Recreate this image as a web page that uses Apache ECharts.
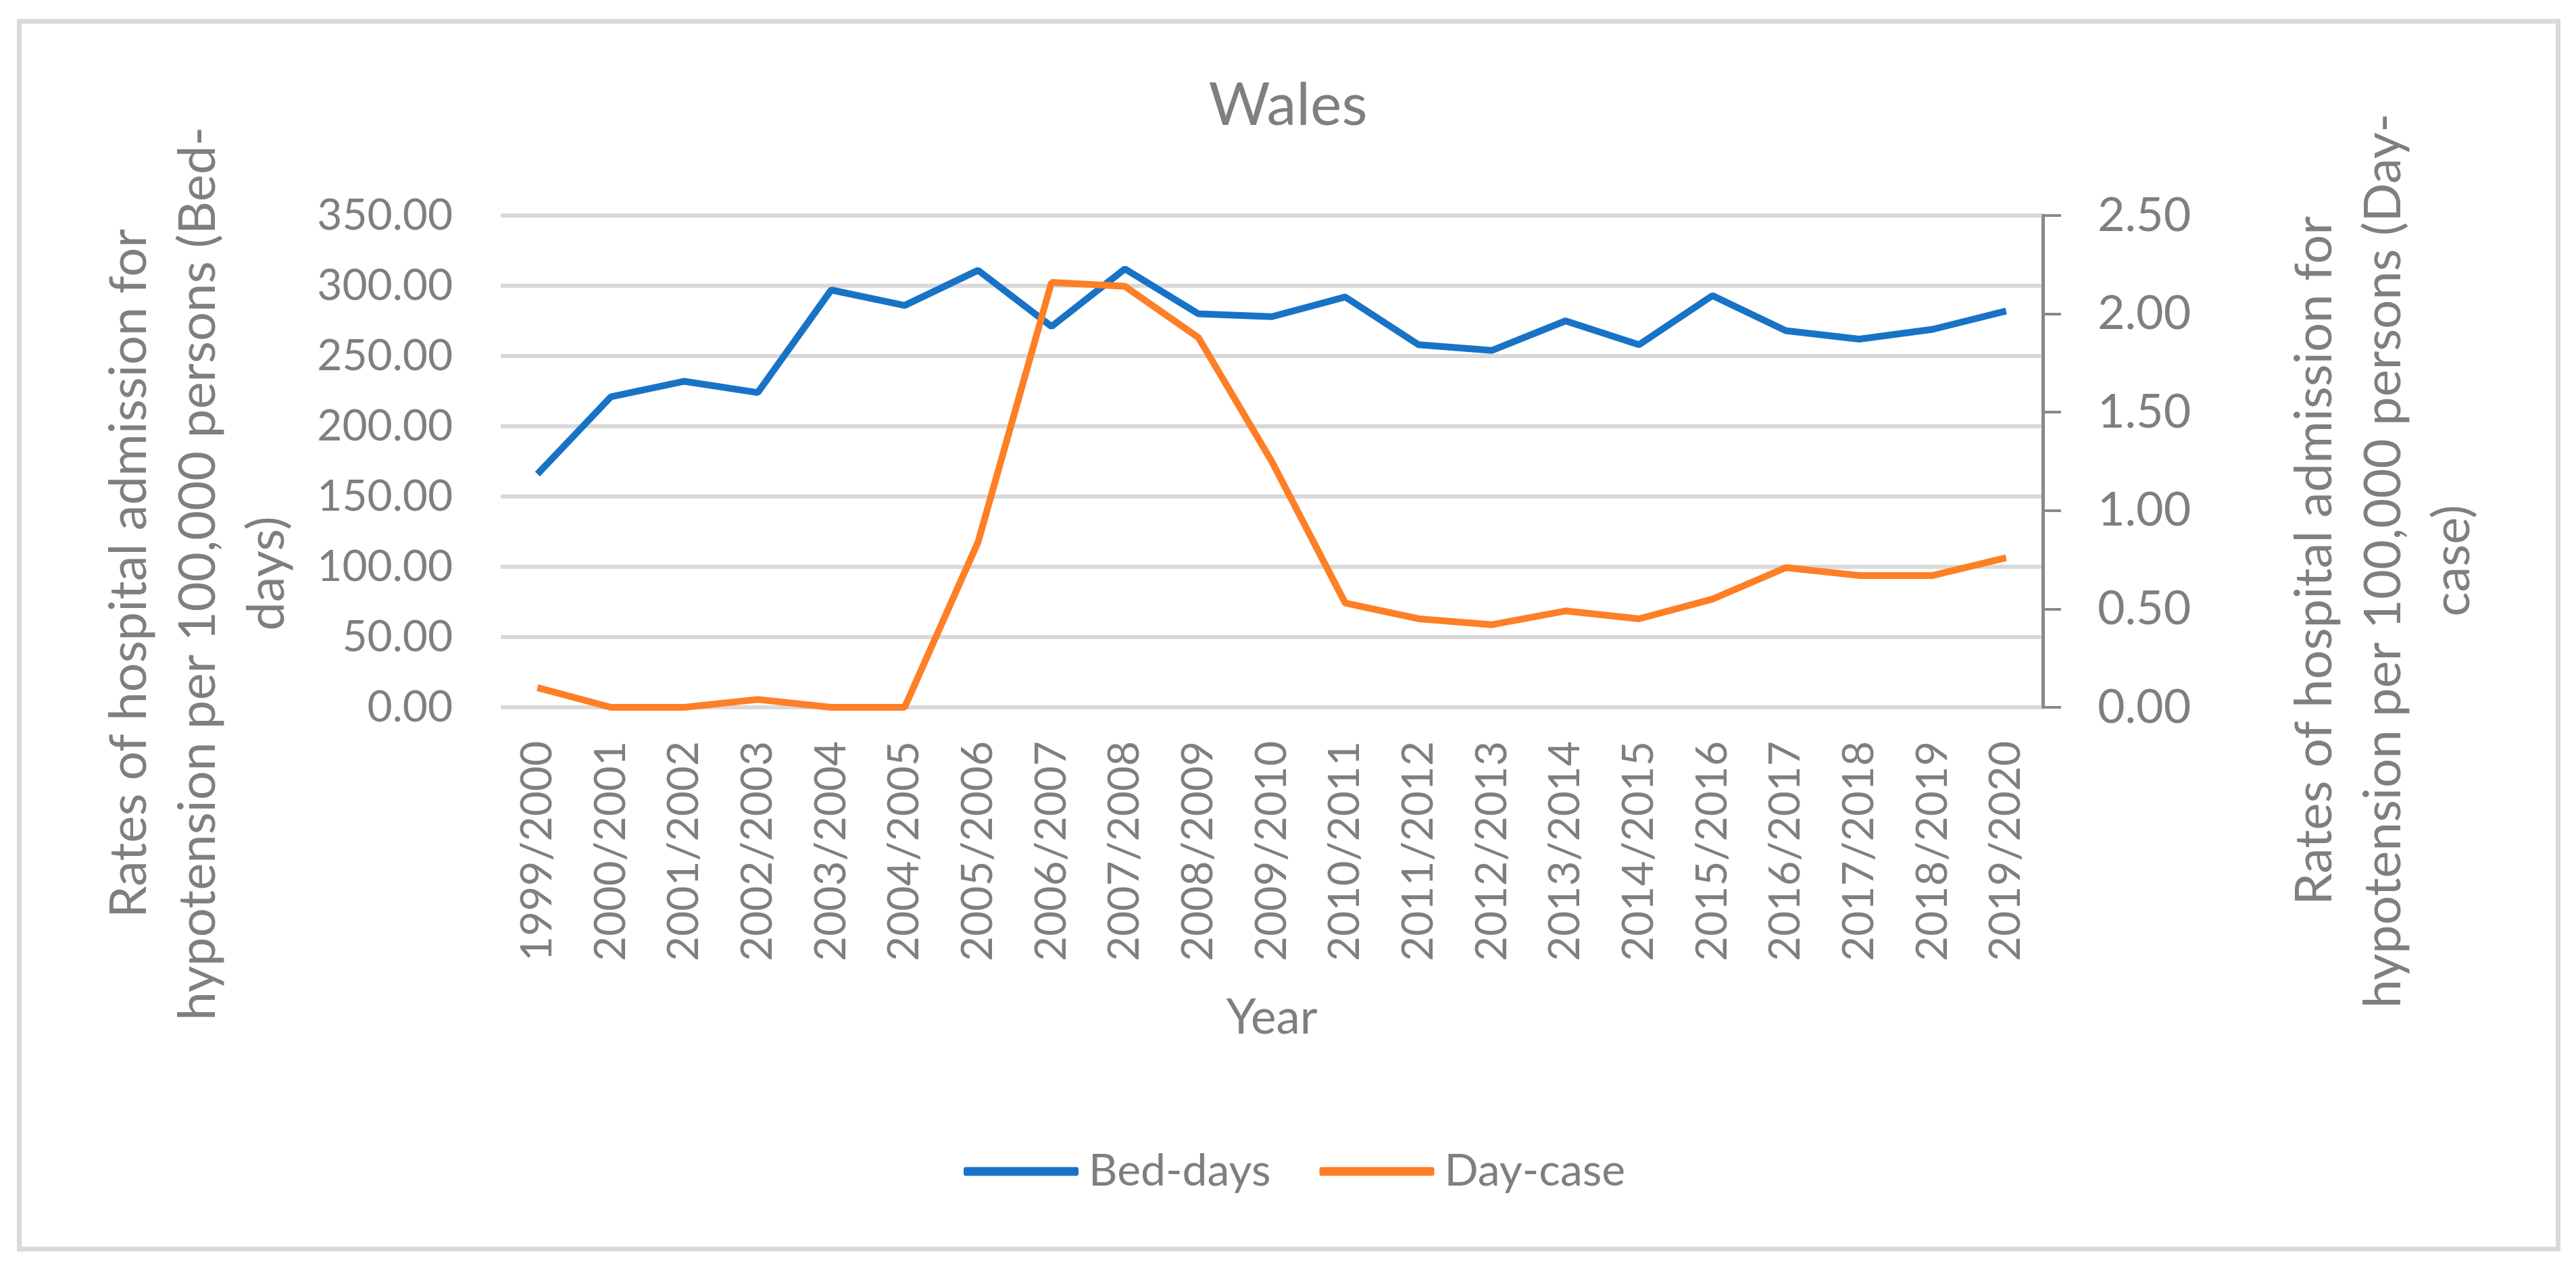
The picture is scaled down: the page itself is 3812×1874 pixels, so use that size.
<!DOCTYPE html>
<html>
<head>
<meta charset="utf-8">
<script src="https://cdn.jsdelivr.net/npm/echarts@6/dist/echarts.min.js"></script>
<style>
html,body{margin:0;padding:0;background:#fff;}
#c{width:3812px;height:1874px;}
</style>
</head>
<body>
<div id="c"></div>
<script>
const categories = ['1999/2000','2000/2001','2001/2002','2002/2003','2003/2004','2004/2005','2005/2006','2006/2007','2007/2008','2008/2009','2009/2010','2010/2011','2011/2012','2012/2013','2013/2014','2014/2015','2015/2016','2016/2017','2017/2018','2018/2019','2019/2020'];
const bedDays = [166, 221, 232, 224, 297, 286, 311, 271, 312, 280, 278, 292, 258, 254, 275, 258, 293, 268, 262, 269, 282];
const dayCase = [0.10, 0, 0, 0.04, 0, 0, 0.84, 2.16, 2.14, 1.88, 1.25, 0.53, 0.45, 0.42, 0.49, 0.45, 0.55, 0.71, 0.67, 0.67, 0.76];
const leftTicks = {min: 0, max: 350, interval: 50};
const rightTicks = {min: 0, max: 2.5, interval: 0.5};

const FONT = 'Lato';
const GRAY = '#7f7f7f';
const chart = echarts.init(document.getElementById('c'));
chart.setOption({
  backgroundColor: '#ffffff',
  animation: false,
  title: {
    text: 'Wales', left: 'center', top: 108,
    textStyle: {fontFamily: FONT, fontSize: 88, fontWeight: 'normal', color: GRAY}
  },
  graphic: [{
    type: 'rect', silent: true,
    shape: {x: 28.5, y: 31.5, width: 3757, height: 1817.5},
    style: {fill: 'none', stroke: '#d9d9d9', lineWidth: 7}
  }],
  legend: {
    left: 1421, top: 1696,
    itemWidth: 170, itemHeight: 13, itemGap: 72, icon: 'roundRect',
    textStyle: {fontFamily: FONT, fontSize: 66, color: GRAY, padding: [0, 0, 0, 10]},
    data: ['Bed-days', 'Day-case']
  },
  grid: {left: 741, right: 789, top: 319, bottom: 827, containLabel: false, outerBoundsMode: 'none'},
  xAxis: {
    type: 'category', data: categories, boundaryGap: true,
    name: 'Year', nameLocation: 'middle', nameGap: 425,
    nameTextStyle: {fontFamily: FONT, fontSize: 71, color: GRAY},
    axisLine: {show: false}, axisTick: {show: false},
    axisLabel: {rotate: 90, margin: 50, fontFamily: FONT, fontSize: 64, color: GRAY, interval: 0}
  },
  yAxis: [{
    type: 'value', position: 'left', min: leftTicks.min, max: leftTicks.max, interval: leftTicks.interval,
    name: 'Rates of hospital admission for\nhypotension per 100,000 persons (Bed-\ndays)',
    nameLocation: 'middle', nameRotate: 90, nameGap: 295,
    nameTextStyle: {fontFamily: FONT, fontSize: 76, color: GRAY, lineHeight: 102, align: 'center', padding: [0, 332, 0, 0]},
    axisLine: {show: false}, axisTick: {show: false},
    axisLabel: {margin: 71, fontFamily: FONT, fontSize: 64, color: GRAY, formatter: v => v.toFixed(2)},
    splitLine: {show: true, lineStyle: {color: '#d9d9d9', width: 6}}
  }, {
    type: 'value', position: 'right', min: rightTicks.min, max: rightTicks.max, interval: rightTicks.interval,
    name: 'Rates of hospital admission for\nhypotension per 100,000 persons (Day-\ncase)',
    nameLocation: 'middle', nameRotate: 90, nameGap: 351,
    nameTextStyle: {fontFamily: FONT, fontSize: 76, color: GRAY, lineHeight: 102, align: 'center', padding: [0, 294, 0, 0]},
    axisLine: {show: true, lineStyle: {color: '#898989', width: 5}},
    axisTick: {show: true, length: 27, lineStyle: {color: '#898989', width: 4}},
    axisLabel: {margin: 81, fontFamily: FONT, fontSize: 70, color: GRAY, formatter: v => v.toFixed(2)},
    splitLine: {show: false}
  }],
  series: [{
    name: 'Bed-days', type: 'line', yAxisIndex: 0, data: bedDays,
    symbol: 'none', lineStyle: {color: '#1873c6', width: 10}, itemStyle: {color: '#1873c6'}
  }, {
    name: 'Day-case', type: 'line', yAxisIndex: 1, data: dayCase,
    symbol: 'none', lineStyle: {color: '#fe7f26', width: 10}, itemStyle: {color: '#fe7f26'}
  }]
});
</script>
</body>
</html>
